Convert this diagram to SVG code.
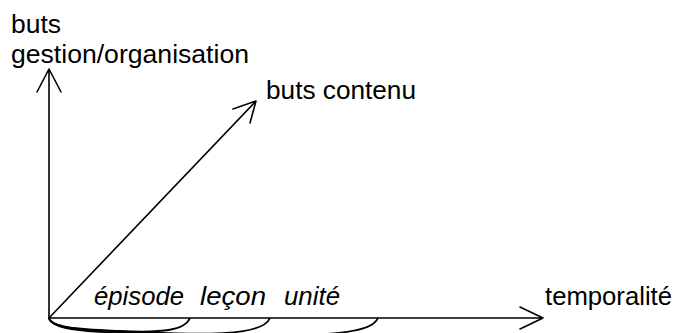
<svg xmlns="http://www.w3.org/2000/svg" width="678" height="333" viewBox="0 0 678 333">
<style>
.ax{stroke:#000;stroke-width:1.6;fill:none;stroke-linecap:round;stroke-linejoin:round}
.br{stroke:#000;stroke-width:1.8;fill:none}
.t{font-family:"Liberation Sans",Arial,sans-serif;font-size:25px;fill:#000}
.i{font-style:italic}
</style>
<rect width="678" height="333" fill="#fff"/>
<g id="connectors">
<path class="ax" d="M49,318 L49,69 M37,92 L49,69 L61,92"/>
<path class="ax" d="M49,318 L543,318 M520,307 L543,318 L520,329"/>
<path class="ax" d="M49,318 L256,101 M233,109 L256,101 L250,123"/>
<path class="br" d="M49,318 C52,328 80,329 120,331 C165,333 185,330 190,318"/>
<path class="br" d="M49,318 C52,330 90,331 160,333 C240,336 265,330 270,318"/>
<path class="br" d="M49,318 C52,332 100,333 200,335 C340,338 372,332 378,318"/>
</g>
<g id="axis-y"><text class="t" x="11" y="33" textLength="50" lengthAdjust="spacingAndGlyphs">buts</text><text class="t" x="11" y="63" textLength="238" lengthAdjust="spacingAndGlyphs">gestion/organisation</text></g>
<g id="axis-diag"><text class="t" x="266" y="99" textLength="150" lengthAdjust="spacingAndGlyphs">buts contenu</text></g>
<g id="axis-x"><text class="t" x="545" y="305" textLength="127" lengthAdjust="spacingAndGlyphs">temporalité</text></g>
<g id="episode"><text class="t i" x="94" y="305" textLength="90" lengthAdjust="spacingAndGlyphs">épisode</text></g>
<g id="lecon"><text class="t i" x="200" y="305" textLength="66" lengthAdjust="spacingAndGlyphs">leçon</text></g>
<g id="unite"><text class="t i" x="284" y="305" textLength="56" lengthAdjust="spacingAndGlyphs">unité</text></g>
</svg>
